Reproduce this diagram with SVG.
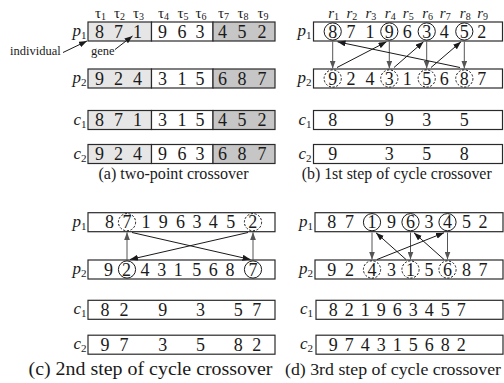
<svg xmlns="http://www.w3.org/2000/svg" width="504" height="383" viewBox="0 0 504 383">
<defs>
<style>
.bx{stroke:#2a2a2a;stroke-width:1.2;fill:#fff}
.lg{fill:#e6e6e6}
.dg{fill:#c6c6c6}
text{font-family:"Liberation Serif","Times New Roman",serif;fill:#1a1a1a}
.d{font-size:18px;text-anchor:middle}
.lb{font-size:17px;font-style:italic;text-anchor:end}
.sb{font-size:11px;font-style:normal}
.hd{font-size:15px}
.it{font-style:italic}
.hs{font-size:10px;font-style:normal}
.cap{text-anchor:middle}
.an{font-size:12.5px}
.c{fill:none;stroke:#1a1a1a;stroke-width:1}
.k{stroke-dasharray:2.2 1.6}
.a{stroke:#1a1a1a;stroke-width:1;fill:none;marker-end:url(#mk)}
.v{stroke:#555;marker-end:url(#mg)}
</style>
<marker id="mk" viewBox="0 0 8 6" refX="8" refY="3" markerWidth="8" markerHeight="6" markerUnits="userSpaceOnUse" orient="auto"><path d="M0,0L8,3L0,6z" fill="#1a1a1a"/></marker>
<marker id="mg" viewBox="0 0 8 6" refX="8" refY="3" markerWidth="8" markerHeight="6" markerUnits="userSpaceOnUse" orient="auto"><path d="M0,0L8,3L0,6z" fill="#555"/></marker>
</defs>

<!-- Panel (a) -->
<g id="a-header">
<text class="hd" x="95" y="17.5">τ<tspan class="hs" dy="2.5">1</tspan></text>
<text class="hd" x="114" y="17.5">τ<tspan class="hs" dy="2.5">2</tspan></text>
<text class="hd" x="133" y="17.5">τ<tspan class="hs" dy="2.5">3</tspan></text>
<text class="hd" x="158" y="17.5">τ<tspan class="hs" dy="2.5">4</tspan></text>
<text class="hd" x="177.5" y="17.5">τ<tspan class="hs" dy="2.5">5</tspan></text>
<text class="hd" x="195.5" y="17.5">τ<tspan class="hs" dy="2.5">6</tspan></text>
<text class="hd" x="218" y="17.5">τ<tspan class="hs" dy="2.5">7</tspan></text>
<text class="hd" x="237.5" y="17.5">τ<tspan class="hs" dy="2.5">8</tspan></text>
<text class="hd" x="257.5" y="17.5">τ<tspan class="hs" dy="2.5">9</tspan></text>
</g>
<g id="a-p1">
<rect class="bx lg" x="88" y="22" width="63.5" height="19"/>
<rect class="bx" x="151.5" y="22" width="61.5" height="19"/>
<rect class="bx dg" x="213" y="22" width="62" height="19"/>
<text class="lb" x="86.5" y="36">p<tspan class="sb" dy="3">1</tspan></text>
<text class="d" x="99.5 109 118.5 128 137.5 150 162.5 172.3 182 191 200 211.3 222.5 232.3 242 252 262" y="37.5">8 7 1 9 6 3 4 5 2</text>
</g>
<g id="a-individual"><text class="an" x="10" y="54.5">individual</text></g>
<g id="a-gene"><text class="an" x="91" y="54.5">gene</text></g>
<g id="a-p2">
<rect class="bx lg" x="88" y="69" width="63.5" height="19"/>
<rect class="bx" x="151.5" y="69" width="61.5" height="19"/>
<rect class="bx dg" x="213" y="69" width="62" height="19"/>
<text class="lb" x="86.5" y="83">p<tspan class="sb" dy="3">2</tspan></text>
<text class="d" x="99.5 109 118.5 128 137.5 150 162.5 172.3 182 191 200 211.3 222.5 232.3 242 252 262" y="84.5">9 2 4 3 1 5 6 8 7</text>
</g>
<g id="a-c1">
<rect class="bx lg" x="88" y="110.5" width="63.5" height="19"/>
<rect class="bx" x="151.5" y="110.5" width="61.5" height="19"/>
<rect class="bx dg" x="213" y="110.5" width="62" height="19"/>
<text class="lb" x="86.5" y="124.5">c<tspan class="sb" dy="3">1</tspan></text>
<text class="d" x="99.5 109 118.5 128 137.5 150 162.5 172.3 182 191 200 211.3 222.5 232.3 242 252 262" y="126">8 7 1 3 1 5 4 5 2</text>
</g>
<g id="a-c2">
<rect class="bx lg" x="88" y="144.5" width="63.5" height="19"/>
<rect class="bx" x="151.5" y="144.5" width="61.5" height="19"/>
<rect class="bx dg" x="213" y="144.5" width="62" height="19"/>
<text class="lb" x="86.5" y="158.5">c<tspan class="sb" dy="3">2</tspan></text>
<text class="d" x="99.5 109 118.5 128 137.5 150 162.5 172.3 182 191 200 211.3 222.5 232.3 242 252 262" y="160">9 2 4 9 6 3 6 8 7</text>
</g>
<g id="a-caption"><text class="cap" x="173.5" y="179" font-size="16.5" textLength="150" lengthAdjust="spacingAndGlyphs">(a) two-point crossover</text></g>

<!-- Panel (b) -->
<g id="b-header">
<text class="hd it" x="328.2" y="17.5">r<tspan class="hs" dy="2.5">1</tspan></text>
<text class="hd it" x="346.5" y="17.5">r<tspan class="hs" dy="2.5">2</tspan></text>
<text class="hd it" x="365.5" y="17.5">r<tspan class="hs" dy="2.5">3</tspan></text>
<text class="hd it" x="384.8" y="17.5">r<tspan class="hs" dy="2.5">4</tspan></text>
<text class="hd it" x="402.8" y="17.5">r<tspan class="hs" dy="2.5">5</tspan></text>
<text class="hd it" x="422.2" y="17.5">r<tspan class="hs" dy="2.5">6</tspan></text>
<text class="hd it" x="439.8" y="17.5">r<tspan class="hs" dy="2.5">7</tspan></text>
<text class="hd it" x="459.8" y="17.5">r<tspan class="hs" dy="2.5">8</tspan></text>
<text class="hd it" x="477.2" y="17.5">r<tspan class="hs" dy="2.5">9</tspan></text>
</g>
<g id="b-p1">
<rect class="bx" x="313.5" y="22" width="189" height="19"/>
<text class="lb" x="311.5" y="36">p<tspan class="sb" dy="3">1</tspan></text>
<text class="d" x="332.7 341.9 351 360.5 370 379.7 389.3 398.3 407.3 417 426.7 435.5 444.3 454.3 464.3 473 481.7" y="37.5">8 7 1 9 6 3 4 5 2</text>
<circle class="c" cx="332.7" cy="31.5" r="8.6"/>
<circle class="c" cx="389.3" cy="31.5" r="8.6"/>
<circle class="c" cx="426.7" cy="31.5" r="8.6"/>
<circle class="c" cx="464.3" cy="31.5" r="8.6"/>
</g>
<g id="b-p2">
<rect class="bx" x="313.5" y="69" width="189" height="19"/>
<text class="lb" x="311.5" y="83">p<tspan class="sb" dy="3">2</tspan></text>
<text class="d" x="332.7 341.9 351 360.5 370 379.7 389.3 398.3 407.3 417 426.7 435.5 444.3 454.3 464.3 473 481.7" y="84.5">9 2 4 3 1 5 6 8 7</text>
<circle class="c k" cx="332.7" cy="78.5" r="8.6"/>
<circle class="c k" cx="389.3" cy="78.5" r="8.6"/>
<circle class="c k" cx="426.7" cy="78.5" r="8.6"/>
<circle class="c k" cx="464.3" cy="78.5" r="8.6"/>
</g>
<g id="b-c1">
<rect class="bx" x="313.5" y="110.5" width="189" height="19"/>
<text class="lb" x="311.5" y="124.5">c<tspan class="sb" dy="3">1</tspan></text>
<text class="d" x="332.7 361 389.3 408 426.7 445.5 464.3" y="126">8 9 3 5</text>
</g>
<g id="b-c2">
<rect class="bx" x="313.5" y="144.5" width="189" height="19"/>
<text class="lb" x="311.5" y="158.5">c<tspan class="sb" dy="3">2</tspan></text>
<text class="d" x="332.7 361 389.3 408 426.7 445.5 464.3" y="160">9 3 5 8</text>
</g>
<g id="b-caption"><text class="cap" x="396.7" y="179" font-size="16.5" textLength="190" lengthAdjust="spacingAndGlyphs">(b) 1st step of cycle crossover</text></g>

<!-- Panel (c) -->
<g id="c-p1">
<rect class="bx" x="88" y="212.7" width="187" height="19"/>
<text class="lb" x="86.5" y="226.8">p<tspan class="sb" dy="3">1</tspan></text>
<text class="d" x="109.5 118.3 127 136.5 146 154.7 163.3 171.9 180.5 188.8 197 205.2 213.3 222 230.7 241.7 252.7" y="228.3">8 7 1 9 6 3 4 5 2</text>
<circle class="c k" cx="127" cy="222.2" r="8.6"/>
<circle class="c k" cx="253" cy="222.2" r="8.6"/>
</g>
<g id="c-p2">
<rect class="bx" x="88" y="260" width="187" height="19"/>
<text class="lb" x="86.5" y="274.1">p<tspan class="sb" dy="3">2</tspan></text>
<text class="d" x="108.5 117.5 126.5 135.8 145 153.4 161.7 170 178.3 187.5 196.7 205 213.3 221.7 230 241.5 253" y="275.6">9 2 4 3 1 5 6 8 7</text>
<circle class="c" cx="127" cy="269.5" r="8.6"/>
<circle class="c" cx="253" cy="269.5" r="8.6"/>
</g>
<g id="c-c1">
<rect class="bx" x="88" y="300.3" width="187" height="19"/>
<text class="lb" x="86.5" y="314.4">c<tspan class="sb" dy="3">1</tspan></text>
<text class="d" x="105 114.5 124 143 162.7 181.6 200.5 219.4 238.3 247.5 256.7" y="315.9">8 2 9 3 5 7</text>
</g>
<g id="c-c2">
<rect class="bx" x="88" y="335.2" width="187" height="19"/>
<text class="lb" x="86.5" y="349.3">c<tspan class="sb" dy="3">2</tspan></text>
<text class="d" x="105 114.5 124 143 162.7 181.6 200.5 219.4 238.3 247.5 256.7" y="350.8">9 7 3 5 8 2</text>
</g>
<g id="c-caption"><text class="cap" x="150.5" y="375" font-size="18.5" textLength="244" lengthAdjust="spacingAndGlyphs">(c) 2nd step of cycle crossover</text></g>

<!-- Panel (d) -->
<g id="d-p1">
<rect class="bx" x="315" y="212.7" width="188" height="19"/>
<text class="lb" x="313" y="226.8">p<tspan class="sb" dy="3">1</tspan></text>
<text class="d" x="331.7 340.6 349.5 360.8 372 381.8 391.5 401 410.5 419.8 429 438.3 447.5 457 466.5 474.8 483" y="228.3">8 7 1 9 6 3 4 5 2</text>
<circle class="c" cx="372" cy="222.2" r="8.6"/>
<circle class="c" cx="410.5" cy="222.2" r="8.6"/>
<circle class="c" cx="447.5" cy="222.2" r="8.6"/>
</g>
<g id="d-p2">
<rect class="bx" x="315" y="260" width="188" height="19"/>
<text class="lb" x="313" y="274.1">p<tspan class="sb" dy="3">2</tspan></text>
<text class="d" x="331.7 340.6 349.5 360.8 372 381.8 391.5 401 410.5 419.8 429 438.3 447.5 457 466.5 474.8 483" y="275.6">9 2 4 3 1 5 6 8 7</text>
<circle class="c k" cx="372" cy="269.5" r="8.6"/>
<circle class="c k" cx="410.5" cy="269.5" r="8.6"/>
<circle class="c k" cx="447.5" cy="269.5" r="8.6"/>
</g>
<g id="d-c1">
<rect class="bx" x="316" y="300.3" width="187" height="19"/>
<text class="lb" x="313" y="314.4">c<tspan class="sb" dy="3">1</tspan></text>
<text class="d" x="333.3 341.3 349.3 357.3 365.3 373.3 381.3 389.3 397.3 405.3 413.3 421.3 429.3 437.3 445.3 453.3 461.3" y="315.9">8 2 1 9 6 3 4 5 7</text>
</g>
<g id="d-c2">
<rect class="bx" x="316" y="335.2" width="187" height="19"/>
<text class="lb" x="313" y="349.3">c<tspan class="sb" dy="3">2</tspan></text>
<text class="d" x="333.3 341.3 349.3 357.3 365.3 373.3 381.3 389.3 397.3 405.3 413.3 421.3 429.3 437.3 445.3 453.3 461.3" y="350.8">9 7 4 3 1 5 6 8 2</text>
</g>
<g id="d-caption"><text class="cap" x="393" y="375" font-size="17.5" textLength="216" lengthAdjust="spacingAndGlyphs">(d) 3rd step of cycle crossover</text></g>

<!-- Connectors -->
<g id="connectors">
<g id="a-arrows">
<path class="a" d="M63,52.5L87,41"/>
<path class="a" d="M115,49.5L132.5,36"/>
</g>
<g id="b-arrows">
<path class="a v" d="M332.7,41.5V68.5"/>
<path class="a" d="M337,67.5L386.5,41.8"/>
<path class="a v" d="M389.3,41.5V68.5"/>
<path class="a" d="M394,67.5L423.5,41.8"/>
<path class="a v" d="M426.7,41.5V68.5"/>
<path class="a" d="M431,67.5L461,41.8"/>
<path class="a v" d="M464.3,41.5V68.5"/>
<path class="a" d="M460,67.5L337.5,41.8"/>
</g>
<g id="c-arrows">
<path class="a v" d="M127,260V232.3"/>
<path class="a v" d="M253,260V232.3"/>
<path class="a" d="M132,232.5L250.5,259.5"/>
<path class="a" d="M248,232.5L130,259.5"/>
</g>
<g id="d-arrows">
<path class="a v" d="M372,232.5V259.5"/>
<path class="a v" d="M410.5,232.5V259.5"/>
<path class="a v" d="M447.5,232.5V259.5"/>
<path class="a" d="M377,259.5L444,232.8"/>
<path class="a" d="M406,259.5L376,232.8"/>
<path class="a" d="M444,259.5L414,232.8"/>
</g>
</g>
</svg>
